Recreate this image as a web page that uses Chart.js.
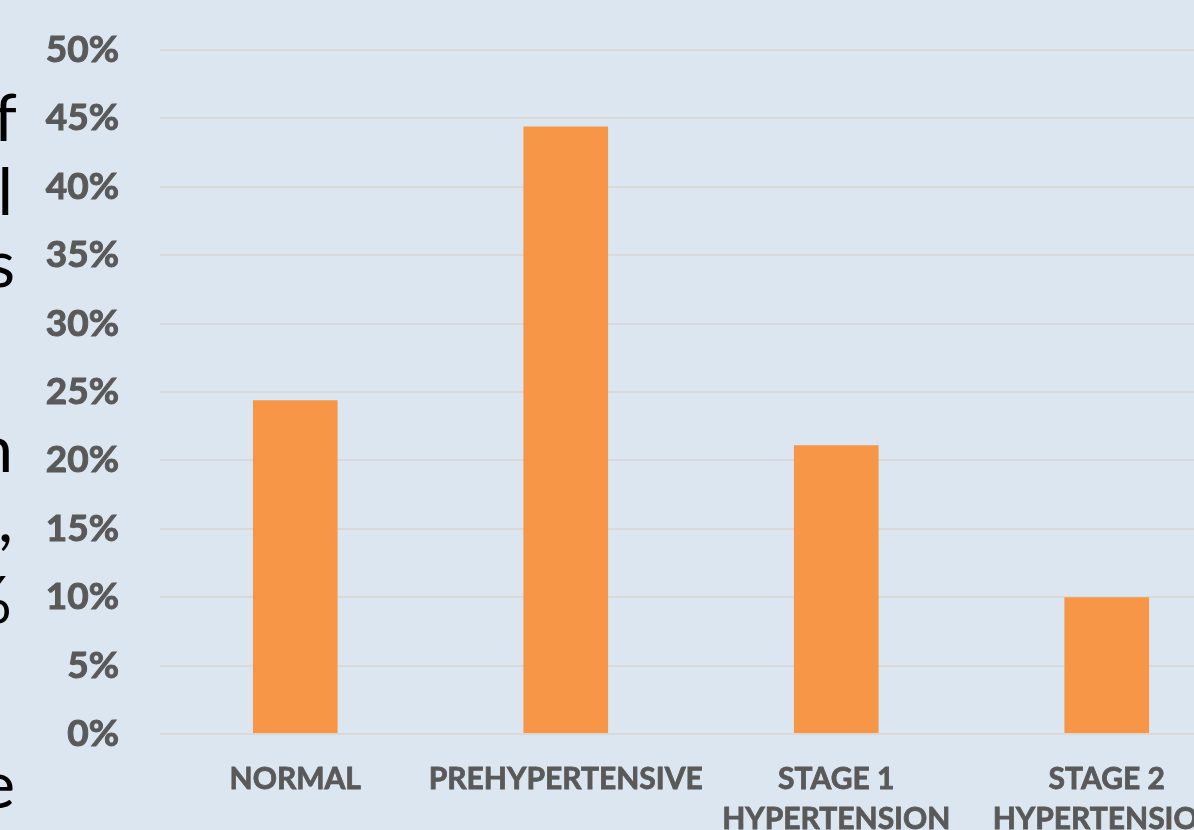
<!DOCTYPE html>
<html>
<head>
<meta charset="utf-8">
<script src="https://cdn.jsdelivr.net/npm/chart.js@4/dist/chart.umd.min.js"></script>
<style>
  html, body { margin:0; padding:0; width:1194px; height:830px; overflow:hidden; background:#dce6f1; }
  #wrap { position:absolute; left:0; top:0; width:1250px; height:900px; }
  .frag { position:absolute; font-family:Lato, "Open Sans", sans-serif; font-size:66px; line-height:1; color:#000; white-space:nowrap; }
</style>
</head>
<body>
<div id="wrap"><canvas id="c" width="1250" height="900"></canvas></div>
<div id="frags"></div>
<script>
// ---- data ----
const categories = [["NORMAL"], ["PREHYPERTENSIVE"], ["STAGE 1", "HYPERTENSION"], ["STAGE 2", "HYPERTENSION"]];
const values = [24.4, 44.4, 21.1, 10.0];
const yMin = 0;
const yMax = 50;
const yStep = 5;
const sideText = ["f", "l", "s", "n", ",", "%", "e"];

// ---- cropped neighbouring slide text (left edge) ----
const fragTops = [83, 157, 229, 414, 484, 565, 750];
const fragRights = [17, 13, 15, 13, 13, 12, 15];
const fragHost = document.getElementById('frags');
sideText.forEach((t, i) => {
  const d = document.createElement('div');
  d.className = 'frag';
  d.textContent = t;
  d.style.top = fragTops[i] + 'px';
  d.style.right = (1194 - fragRights[i]) + 'px';
  fragHost.appendChild(d);
});

// ---- chart ----
const grey = '#595959';
new Chart(document.getElementById('c'), {
  type: 'bar',
  data: {
    labels: categories,
    datasets: [{
      data: values,
      backgroundColor: '#f79646',
      borderWidth: 0,
      categoryPercentage: 1,
      barPercentage: 0.313
    }]
  },
  options: {
    responsive: false,
    animation: false,
    events: [],
    layout: { padding: { top: 50, right: 8, bottom: 0, left: 0 } },
    plugins: { legend: { display: false }, tooltip: { enabled: false } },
    scales: {
      x: {
        grid: { display: false, drawTicks: false },
        border: { display: false },
        ticks: {
          color: grey,
          font: { family: 'Lato', size: 30, weight: 'bold', lineHeight: 1.33 },
          textStrokeColor: grey,
          textStrokeWidth: 0.8,
          padding: 25,
          autoSkip: false,
          maxRotation: 0,
          minRotation: 0
        },
        afterFit: (s) => { s.height = 166; s.paddingLeft = 0; s.paddingRight = 0; s.paddingTop = 0; s.paddingBottom = 0; }
      },
      y: {
        min: yMin,
        max: yMax,
        grid: { color: '#d9d9d9', lineWidth: 2, drawTicks: false },
        border: { display: false },
        ticks: {
          stepSize: yStep,
          color: grey,
          font: { family: 'Lato', size: 37, weight: 'bold' },
          textStrokeColor: grey,
          textStrokeWidth: 1,
          padding: 41,
          callback: (v) => v + '%'
        },
        afterFit: (s) => { s.width = 160; s.paddingTop = 0; s.paddingBottom = 0; s.paddingLeft = 0; s.paddingRight = 0; }
      }
    }
  }
});
</script>
</body>
</html>
